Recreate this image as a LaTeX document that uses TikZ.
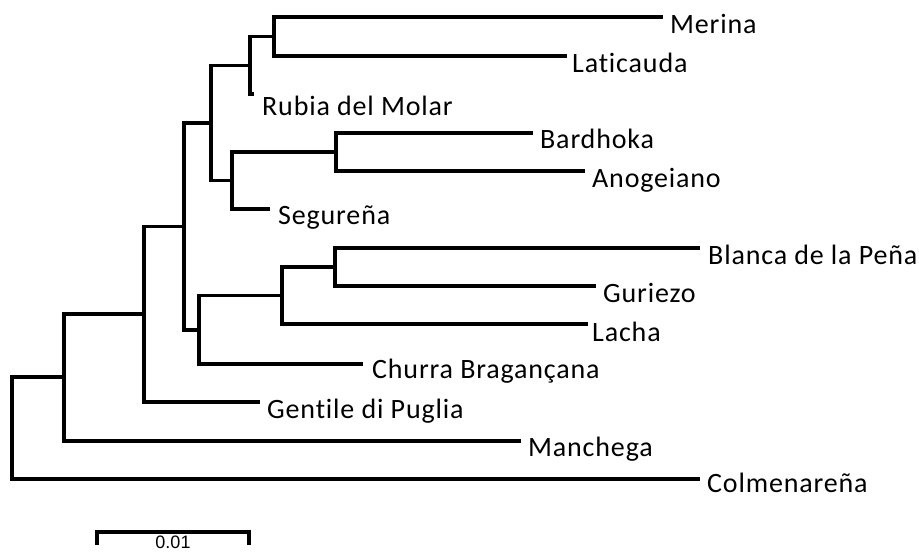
\documentclass[tikz,border=0pt]{standalone}
\usepackage{fontspec}
\setmainfont{Carlito}[LetterSpace=3,Ligatures={NoCommon}]
\newfontfamily\scalefont{Liberation Sans}
\begin{document}
\begin{tikzpicture}[x=1pt,y=-1pt,
  branch/.style={line width=3.2pt,line join=miter,black},
  taxon/.style={anchor=base west,inner sep=0pt,font=\fontsize{28}{30}\selectfont},
  scalelab/.style={anchor=base,inner sep=0pt,font=\scalefont\fontsize{18}{20}\selectfont}]
\useasboundingbox (0,0) rectangle (919,552);
% internal nodes
\coordinate (n1) at (274,36.5);
\coordinate (n2) at (250,65.5);
\coordinate (n3) at (336,152);
\coordinate (n4) at (232,180.5);
\coordinate (n5) at (211,123);
\coordinate (n6) at (335,267);
\coordinate (n7) at (282,295.5);
\coordinate (n8) at (199,330);
\coordinate (n9) at (184,226.5);
\coordinate (n10) at (144,314);
\coordinate (n11) at (64,377);
\coordinate (root) at (12,428);
% tips
\coordinate (tMer) at (663,17);
\coordinate (tLat) at (567,56);
\coordinate (tRub) at (254,94);
\coordinate (tBar) at (533,133);
\coordinate (tAno) at (585,171);
\coordinate (tSeg) at (270,209);
\coordinate (tBla) at (700,248);
\coordinate (tGur) at (596,286);
\coordinate (tLac) at (588,324);
\coordinate (tChu) at (363,364);
\coordinate (tGen) at (260,402);
\coordinate (tMan) at (521,441);
\coordinate (tCol) at (700,479);
% branches
\draw[branch] (n1) |- (tMer);
\draw[branch] (n1) |- (tLat);
\draw[branch] (n2) |- (n1);
\draw[branch] (n2) |- (tRub);
\draw[branch] (n3) |- (tBar);
\draw[branch] (n3) |- (tAno);
\draw[branch] (n4) |- (n3);
\draw[branch] (n4) |- (tSeg);
\draw[branch] (n5) |- (n2);
\draw[branch] (n5) |- (n4);
\draw[branch] (n6) |- (tBla);
\draw[branch] (n6) |- (tGur);
\draw[branch] (n7) |- (n6);
\draw[branch] (n7) |- (tLac);
\draw[branch] (n8) |- (n7);
\draw[branch] (n8) |- (tChu);
\draw[branch] (n9) |- (n5);
\draw[branch] (n9) |- (n8);
\draw[branch] (n10) |- (n9);
\draw[branch] (n10) |- (tGen);
\draw[branch] (n11) |- (n10);
\draw[branch] (n11) |- (tMan);
\draw[branch] (root) |- (n11);
\draw[branch] (root) |- (tCol);
% labels
\node[taxon] (lMer) at (670,33) {Merina};
\node[taxon] (lLat) at (572,72) {Laticauda};
\node[taxon] (lRub) at (262,115) {Rubia del Molar};
\node[taxon] (lBar) at (540,148) {Bardhoka};
\node[taxon] (lAno) at (592,187) {Anogeiano};
\node[taxon] (lSeg) at (278,224) {Segureña};
\node[taxon] (lBla) at (708,264) {Blanca de la Peña};
\node[taxon] (lGur) at (603,302) {Guriezo};
\node[taxon] (lLac) at (592,341) {Lacha};
\node[taxon] (lChu) at (372,378) {Churra Bragançana};
\node[taxon] (lGen) at (267,418) {Gentile di Puglia};
\node[taxon] (lMan) at (528,456) {Manchega};
\node[taxon] (lCol) at (707,492) {Colmenareña};
% scale bar
\coordinate (sL) at (97,545);
\coordinate (sR) at (249,545);
\draw[branch] (sL) |- (173,532) -| (sR);
\node[scalelab] (sLab) at (173,548.5) {0.01};
\end{tikzpicture}
\end{document}
